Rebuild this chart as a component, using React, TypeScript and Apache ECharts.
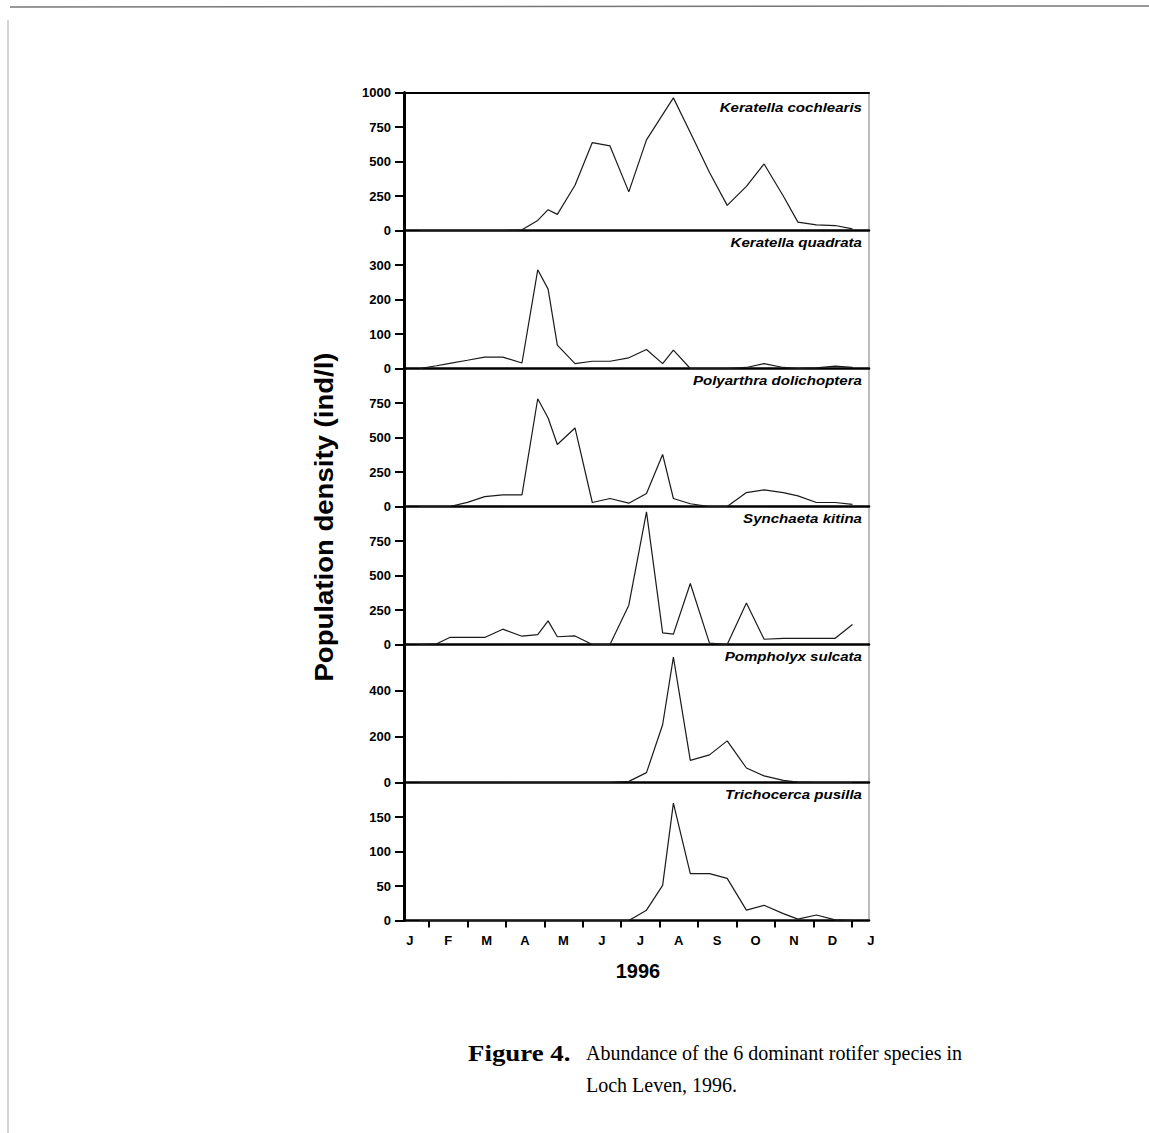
import React, { useEffect, useRef } from 'react';
import * as echarts from 'echarts';

// ---- Data ----
// Sampling dates in months since 1 January 1996 (0 = 1 Jan, 12 = 1 Jan 1997)
const sampleMonths = [0.25, 0.7, 1.04, 1.5, 1.95, 2.42, 2.92, 3.33, 3.6, 3.84, 4.3, 4.75, 5.21, 5.7, 6.16, 6.58, 6.86, 7.3, 7.8, 8.26, 8.76, 9.22, 9.72, 10.1, 10.58, 11.07, 11.52];

const keratellaCochlearis = [0, 0, 0, 0, 0, 0, 5, 73, 151, 117, 328, 637, 613, 280, 657, 840, 961, 710, 420, 182, 320, 482, 250, 61, 41, 36, 12];
const keratellaQuadrata = [0, 8, 15, 24, 33, 33, 16, 286, 230, 68, 14, 21, 21, 31, 55, 14, 53, 0, 0, 0, 3, 14, 3, 0, 2, 7, 3];
const polyarthraDolichoptera = [0, 0, 0, 30, 72, 84, 84, 781, 641, 449, 569, 29, 58, 24, 94, 377, 58, 20, 0, 0, 101, 120, 101, 77, 29, 29, 16];
const synchaetaKitina = [0, 5, 51, 51, 51, 111, 60, 72, 171, 56, 62, 0, 0, 285, 961, 84, 75, 442, 10, 0, 301, 38, 45, 45, 45, 45, 145];
const pompholyxSulcata = [0, 0, 0, 0, 0, 0, 0, 0, 0, 0, 0, 0, 0, 5, 43, 251, 545, 96, 120, 181, 63, 29, 9, 2, 0, 0, 0];
const trichocercaPusilla = [0, 0, 0, 0, 0, 0, 0, 0, 0, 0, 0, 0, 0, 0, 15, 51, 170, 68, 68, 61, 15, 22, 10, 2, 8, 1, 0];

const speciesNames = ['Keratella cochlearis', 'Keratella quadrata', 'Polyarthra dolichoptera', 'Synchaeta kitina', 'Pompholyx sulcata', 'Trichocerca pusilla'];
const speciesValues = [keratellaCochlearis, keratellaQuadrata, polyarthraDolichoptera, synchaetaKitina, pompholyxSulcata, trichocercaPusilla];

const yMaxima = [1000, 400, 1000, 1000, 600, 200];
const yIntervals = [250, 100, 250, 250, 200, 50];
const monthLabels = ['J', 'F', 'M', 'A', 'M', 'J', 'J', 'A', 'S', 'O', 'N', 'D', 'J'];

const yAxisTitle = 'Population density (ind/l)';
const xAxisTitle = '1996';
const captionBold = 'Figure 4.';
const captionLine1 = 'Abundance of the 6 dominant rotifer species in';
const captionLine2 = 'Loch Leven, 1996.';

// ---- Layout ----
const W = 1149;
const H = 1133;
const PLOT_LEFT = 404;
const PLOT_RIGHT = 869;
const PLOT_TOP = 92.5;
const PANEL_H = 138;
const X_MIN = -0.15;
const X_MAX = 11.95;
const SANS = '"Liberation Sans", Arial, sans-serif';
const SERIF = '"Liberation Serif", "Times New Roman", serif';

export default function App() {
  const ref = useRef<HTMLDivElement>(null);

  useEffect(() => {
    document.body.style.margin = '0';
    if (!ref.current) return;
    const chart = echarts.init(ref.current, null, { renderer: 'svg' });

    const plotW = PLOT_RIGHT - PLOT_LEFT;
    const pxPerMonth = plotW / (X_MAX - X_MIN);
    const monthToPx = (m: number) => PLOT_LEFT + (m - X_MIN) * pxPerMonth;
    const bottomY = PLOT_TOP + 6 * PANEL_H;

    const grids: any[] = [];
    const xAxes: any[] = [];
    const yAxes: any[] = [];
    const series: any[] = [];
    const graphics: any[] = [];

    for (let i = 0; i < 6; i++) {
      grids.push({
        left: PLOT_LEFT,
        top: PLOT_TOP + i * PANEL_H,
        width: plotW,
        height: PANEL_H,
        show: true,
        borderColor: '#777',
        borderWidth: 1,
        backgroundColor: 'transparent',
        containLabel: false,
        outerBoundsMode: 'none',
      });
      xAxes.push({
        type: 'value',
        gridIndex: i,
        min: X_MIN,
        max: X_MAX,
        axisLine: { show: true, onZero: false, lineStyle: { color: '#000', width: 2.5 } },
        axisTick: { show: false },
        axisLabel: { show: false },
        splitLine: { show: false },
      });
      yAxes.push({
        type: 'value',
        gridIndex: i,
        min: 0,
        max: yMaxima[i],
        interval: yIntervals[i],
        axisLine: { show: true, onZero: false, lineStyle: { color: '#000', width: 3 } },
        axisTick: { show: true, length: 9, lineStyle: { color: '#000', width: 2 } },
        axisLabel: {
          show: true,
          margin: 13,
          color: '#000',
          fontFamily: SANS,
          fontWeight: 'bold',
          fontSize: 13,
          showMaxLabel: i === 0,
          showMinLabel: true,
          formatter: (v: number) => String(v),
        },
        splitLine: { show: false },
      });
      series.push({
        type: 'line',
        name: speciesNames[i],
        xAxisIndex: i,
        yAxisIndex: i,
        data: sampleMonths.map((m, j) => [m, speciesValues[i][j]]),
        symbol: 'none',
        lineStyle: { color: '#1a1a1a', width: 1.2 },
        z: 3,
      });
      graphics.push({
        type: 'text',
        x: PLOT_RIGHT - 7,
        y: PLOT_TOP + i * PANEL_H + (i === 0 ? 15 : 12),
        scaleX: 1.16,
        style: {
          text: speciesNames[i],
          x: 0,
          y: 0,
          align: 'right',
          verticalAlign: 'middle',
          font: `italic bold 13px ${SANS}`,
          fill: '#000',
        },
      });
    }

    // top border of the stack
    xAxes.push({
      type: 'value',
      gridIndex: 0,
      position: 'top',
      min: X_MIN,
      max: X_MAX,
      axisLine: { show: true, onZero: false, lineStyle: { color: '#000', width: 2 } },
      axisTick: { show: false },
      axisLabel: { show: false },
      splitLine: { show: false },
    });

    // month label axis (labels at month starts)
    grids.push({
      left: monthToPx(0),
      top: bottomY - 1,
      width: 12 * pxPerMonth,
      height: 1,
      show: false,
      containLabel: false,
      outerBoundsMode: 'none',
    });
    xAxes.push({
      type: 'value',
      gridIndex: 6,
      min: 0,
      max: 12,
      interval: 1,
      axisLine: { show: false, onZero: false },
      axisTick: { show: false },
      splitLine: { show: false },
      axisLabel: {
        show: true,
        margin: 13,
        color: '#000',
        fontFamily: SANS,
        fontWeight: 'bold',
        fontSize: 13,
        formatter: (v: number) => monthLabels[Math.round(v)] ?? '',
      },
    });
    yAxes.push({ type: 'value', gridIndex: 6, show: false, min: 0, max: 1 });

    // month tick axis (ticks at mid-months)
    grids.push({
      left: monthToPx(0.5),
      top: bottomY - 1,
      width: 11 * pxPerMonth,
      height: 1,
      show: false,
      containLabel: false,
      outerBoundsMode: 'none',
    });
    xAxes.push({
      type: 'value',
      gridIndex: 7,
      min: 0,
      max: 11,
      interval: 1,
      axisLine: { show: false, onZero: false },
      axisTick: { show: true, length: 7, lineStyle: { color: '#000', width: 2 } },
      axisLabel: { show: false },
      splitLine: { show: false },
    });
    yAxes.push({ type: 'value', gridIndex: 7, show: false, min: 0, max: 1 });

    // titles and caption
    graphics.push(
      {
        type: 'text',
        x: 324,
        y: 517,
        rotation: Math.PI / 2,
        scaleX: 1.06,
        style: { text: yAxisTitle, x: 0, y: 0, align: 'center', verticalAlign: 'middle', font: `bold 26px ${SANS}`, fill: '#000' },
      },
      {
        type: 'text',
        x: 638,
        y: 971,
        style: { text: xAxisTitle, align: 'center', verticalAlign: 'middle', font: `bold 20px ${SANS}`, fill: '#000' },
      },
      {
        type: 'text',
        x: 468,
        y: 1053,
        scaleX: 1.12,
        style: { text: captionBold, x: 0, y: 0, align: 'left', verticalAlign: 'middle', font: `bold 24px ${SERIF}`, fill: '#000' },
      },
      {
        type: 'text',
        x: 586,
        y: 1053,
        scaleX: 0.91,
        style: { text: captionLine1, x: 0, y: 0, align: 'left', verticalAlign: 'middle', font: `22px ${SERIF}`, fill: '#000' },
      },
      {
        type: 'text',
        x: 586,
        y: 1085,
        scaleX: 0.91,
        style: { text: captionLine2, x: 0, y: 0, align: 'left', verticalAlign: 'middle', font: `22px ${SERIF}`, fill: '#000' },
      },
      // scanned page edges
      {
        type: 'line',
        shape: { x1: 10, y1: 7, x2: W, y2: 6 },
        style: { stroke: '#777', lineWidth: 1.5 },
      },
      {
        type: 'line',
        shape: { x1: 8, y1: 20, x2: 8, y2: H },
        style: { stroke: '#aaa', lineWidth: 1 },
      }
    );

    chart.setOption({
      animation: false,
      backgroundColor: '#fff',
      grid: grids,
      xAxis: xAxes,
      yAxis: yAxes,
      series,
      graphic: graphics,
    });

    return () => chart.dispose();
  }, []);

  return <div ref={ref} style={{ width: W, height: H }} />;
}
